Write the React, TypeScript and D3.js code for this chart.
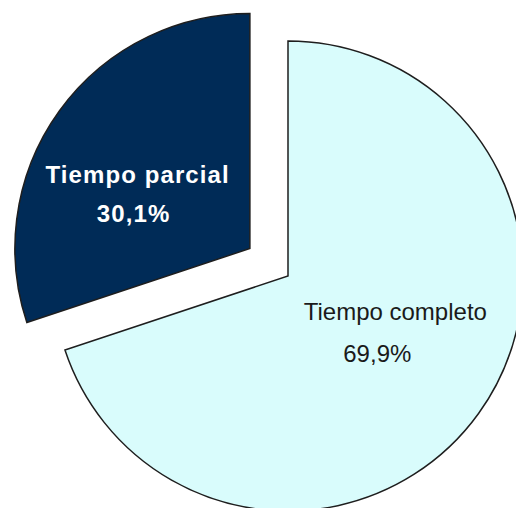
import React from 'react';
import * as d3 from 'd3';

const categories = ['Tiempo completo', 'Tiempo parcial'];
const shares = [69.9, 30.1];
const valueLabels = ['69,9%', '30,1%'];

const colors = ['#d9fcfc', '#002b57'];
const textColors = ['#1a1a1a', '#ffffff'];
const exploded = [0, 47];

const width = 516;
const height = 508;
const cx = 288;
const cy = 276;
const radius = 235;

// nudges for the two text lines relative to the label centroid
const nameOffsets: [number, number][] = [
  [10, -26],
  [-15, 5],
];
const valueOffsets: [number, number][] = [
  [-8, 16],
  [-19, 44],
];

const App: React.FC = () => {
  const pie = d3
    .pie<number>()
    .sort(null)
    .value((d) => d);
  const arcs = pie(shares);

  const arc = d3
    .arc<d3.PieArcDatum<number>>()
    .innerRadius(0)
    .outerRadius(radius);

  const labelArc = d3
    .arc<d3.PieArcDatum<number>>()
    .innerRadius(120)
    .outerRadius(120);

  return (
    <svg
      width={width}
      height={height}
      style={{ position: 'absolute', left: 0, top: 0, background: '#fff' }}
    >
      <g transform={`translate(${cx},${cy})`}>
        {arcs.map((a, i) => {
          const mid = (a.startAngle + a.endAngle) / 2;
          const ox = Math.sin(mid) * exploded[i];
          const oy = -Math.cos(mid) * exploded[i];
          const [lx, ly] = labelArc.centroid(a);
          const bold = i === 1;
          return (
            <g key={categories[i]} transform={`translate(${ox},${oy})`}>
              <path
                d={arc(a) || ''}
                fill={colors[i]}
                stroke="#1e1e1e"
                strokeWidth={1.5}
                strokeLinejoin="miter"
              />
              <text
                x={lx + nameOffsets[i][0]}
                y={ly + nameOffsets[i][1]}
                textAnchor="middle"
                fontFamily="'Liberation Sans', Arial, sans-serif"
                fontSize={24}
                fontWeight={bold ? 'bold' : 'normal'}
                letterSpacing={bold ? 1.1 : 0}
                fill={textColors[i]}
              >
                {categories[i]}
              </text>
              <text
                x={lx + valueOffsets[i][0]}
                y={ly + valueOffsets[i][1]}
                textAnchor="middle"
                fontFamily="'Liberation Sans', Arial, sans-serif"
                fontSize={24}
                fontWeight={bold ? 'bold' : 'normal'}
                letterSpacing={bold ? 1.1 : 0}
                fill={textColors[i]}
              >
                {valueLabels[i]}
              </text>
            </g>
          );
        })}
      </g>
    </svg>
  );
};

export default App;
